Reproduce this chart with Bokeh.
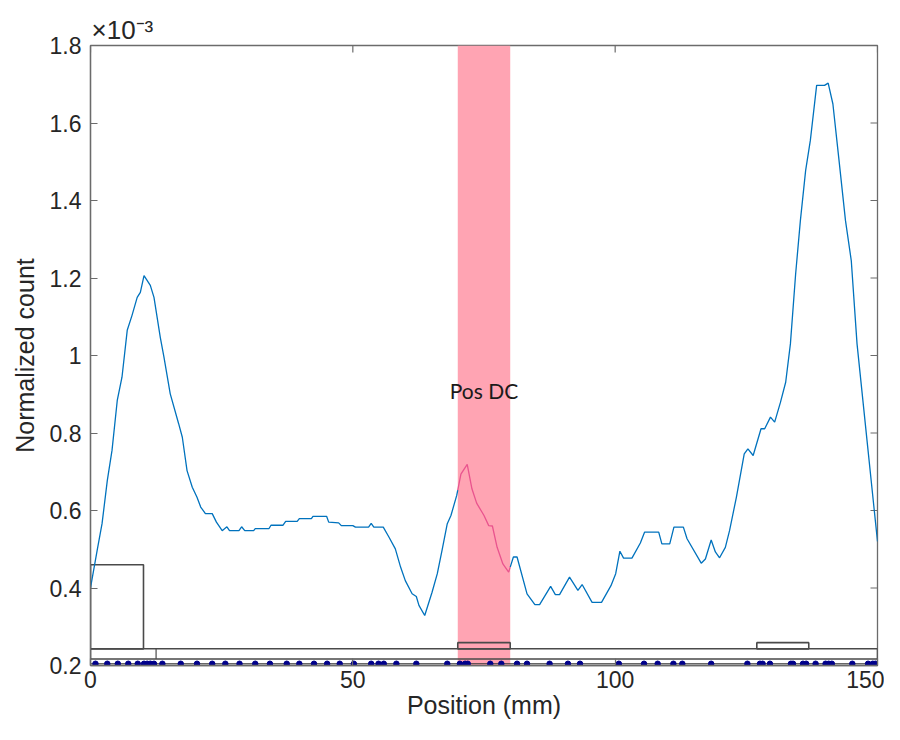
import numpy as np
from bokeh.plotting import figure
from bokeh.models import FixedTicker, Range1d, Label
from bokeh.embed import file_html
from bokeh.resources import INLINE

# ---------------- data ----------------
# normalized count, in units of 1e-3
pos_mm = [0.0, 1.27, 2.2, 3.2, 4.1, 5.1, 6.0, 7.0, 7.9, 8.9, 9.5, 10.2, 11.4, 12.1,
          13.3, 14.0, 15.2, 16.8, 17.5, 18.4, 19.4, 20.3, 21.0, 21.9, 23.2, 24.0,
          25.1, 26.0, 26.5, 28.3, 28.8, 29.4, 31.1, 31.4, 34.0, 34.4, 36.7, 37.2,
          39.4, 39.8, 42.1, 42.4, 45.0, 45.4, 47.3, 47.8, 50.0, 50.5, 53.0, 53.5,
          54.0, 55.8, 56.9, 58.1, 59.1, 60.0, 61.3, 62.1, 62.6, 63.7, 65.1, 66.1,
          67.0, 68.0, 68.7, 69.8, 70.6, 71.8, 72.7, 73.6, 75.0, 75.9, 76.6, 77.5,
          78.6, 79.7, 80.6, 81.3, 83.2, 84.7, 85.6, 87.7, 88.6, 89.4, 91.3, 92.9,
          93.7, 95.6, 97.4, 99.2, 100.1, 100.9, 101.6, 103.2, 104.8, 105.6, 108.3,
          108.9, 110.4, 111.2, 113.0, 113.7, 116.4, 117.2, 118.3, 119.1, 119.9,
          121.0, 121.8, 123.1, 124.6, 125.3, 126.3, 127.8, 128.5, 129.6, 130.4,
          131.5, 132.5, 133.4, 134.4, 135.3, 136.3, 137.2, 138.4, 139.9, 140.6,
          141.5, 142.6, 143.9, 145.0, 146.1, 148.0, 150.0]
count_e3 = [0.400, 0.497, 0.566, 0.677, 0.755, 0.884, 0.944, 1.065, 1.103, 1.150, 1.163,
            1.206, 1.181, 1.150, 1.047, 0.996, 0.901, 0.824, 0.789, 0.703, 0.660, 0.634,
            0.609, 0.592, 0.592, 0.570, 0.548, 0.558, 0.548, 0.548, 0.558, 0.548, 0.548,
            0.553, 0.553, 0.562, 0.562, 0.572, 0.572, 0.579, 0.579, 0.585, 0.585, 0.570,
            0.568, 0.561, 0.561, 0.557, 0.557, 0.567, 0.557, 0.557, 0.531, 0.501, 0.454,
            0.419, 0.385, 0.378, 0.355, 0.329, 0.389, 0.437, 0.497, 0.566, 0.587, 0.639,
            0.694, 0.719, 0.656, 0.619, 0.587, 0.561, 0.560, 0.505, 0.462, 0.441, 0.480,
            0.480, 0.385, 0.357, 0.357, 0.404, 0.383, 0.383, 0.428, 0.394, 0.409, 0.363,
            0.363, 0.406, 0.437, 0.495, 0.477, 0.477, 0.516, 0.544, 0.544, 0.514, 0.514,
            0.557, 0.557, 0.527, 0.464, 0.475, 0.524, 0.493, 0.478, 0.505, 0.548, 0.634,
            0.746, 0.759, 0.742, 0.811, 0.811, 0.841, 0.828, 0.879, 0.931, 1.030, 1.211,
            1.348, 1.477, 1.555, 1.697, 1.697, 1.703, 1.649, 1.512, 1.348, 1.245, 1.030,
            0.781, 0.520]

band_x = [70, 80]
band_text = "Pos DC"
band_text_pos = [75, 0.91]

# schematic at the bottom
rect_left = [0, 70, 127]
rect_right = [10.1, 80, 136.9]
rect_bottom = [0.243, 0.243, 0.243]
rect_top = [0.46, 0.259, 0.259]
bar_left = [0]
bar_right = [150]
bar_bottom = [0.217]
bar_top = [0.243]
divider_x = [12.5]
dot_x = [0.95, 3.2, 5.2, 7.2, 9.0, 10.2, 10.8, 11.4, 12.1, 13.7, 17.2, 20.3, 23.2, 25.7,
         28.4, 31.4, 34.2, 37.4, 39.8, 42.6, 45.1, 47.5, 50.2, 53.5, 54.9, 55.9, 58.3,
         62.1, 68.0, 70.4, 71.4, 71.9, 76.2, 78.3, 81.3, 83.2, 87.5, 91.0, 93.3, 100.7,
         105.5, 108.1, 111.1, 112.8, 118.3, 125.2, 127.6, 128.1, 129.5, 133.5, 133.9,
         135.8, 136.4, 138.2, 140.1, 140.7, 141.3, 145.2, 148.2, 149.1, 149.6]
dot_level = 0.2045

x_ticks = [0, 50, 100, 150]
y_ticks = [0.2, 0.4, 0.6, 0.8, 1.0, 1.2, 1.4, 1.6, 1.8]
y_tick_labels = ["0.2", "0.4", "0.6", "0.8", "1", "1.2", "1.4", "1.6", "1.8"]
x_lim = (0, 150)
y_lim = (0.2, 1.8)
scale_text = "\u00d710\u207b\u00b3"

# ---------------- figure ----------------
AX = "#6b6b6b"
TXT = "#262626"
FONT = "Liberation Sans"

p = figure(width=884, height=724, x_range=Range1d(*x_lim), y_range=Range1d(*y_lim),
           output_backend="svg", toolbar_location=None,
           min_border_left=90, min_border_right=7, min_border_top=45, min_border_bottom=59)
p.grid.visible = False
p.outline_line_color = AX
p.outline_line_width = 1.3
p.background_fill_color = "white"
p.border_fill_color = "white"

# exponent as title
p.title.text = scale_text
p.title.align = "left"
p.title.offset = 1
p.title.standoff = 1
p.title.text_font = FONT
p.title.text_font_size = "26px"
p.title.text_font_style = "normal"
p.title.text_color = TXT

def style_axis(ax):
    ax.axis_line_color = AX
    ax.axis_line_width = 1.3
    ax.major_tick_line_color = AX
    ax.major_tick_line_width = 1.2
    ax.major_tick_in = 7
    ax.major_tick_out = 0
    ax.minor_tick_line_color = None
    ax.major_label_text_font = FONT
    ax.major_label_text_font_size = "23px"
    ax.major_label_text_color = TXT
    ax.axis_label_text_font = FONT
    ax.axis_label_text_font_size = "25px"
    ax.axis_label_text_font_style = "normal"
    ax.axis_label_text_color = TXT

xb = p.xaxis[0]
yl = p.yaxis[0]
xb.ticker = FixedTicker(ticks=x_ticks)
yl.ticker = FixedTicker(ticks=y_ticks)
yl.major_label_overrides = dict(zip(y_ticks, y_tick_labels))
style_axis(xb)
style_axis(yl)
xb.axis_label = "Position (mm)"
yl.axis_label = "Normalized count"
xb.major_label_standoff = 5
xb.axis_label_standoff = 0
yl.major_label_standoff = 9
yl.axis_label_standoff = 8

# inward ticks on top and right edges of the box
p.ray(x=x_ticks, y=[y_lim[1]] * len(x_ticks), length=7, length_units="screen",
      angle=-90, angle_units="deg", line_color=AX, line_width=1.2)
p.ray(x=[x_lim[1]] * len(y_ticks), y=y_ticks, length=7, length_units="screen",
      angle=180, angle_units="deg", line_color=AX, line_width=1.2)

# pink band
p.quad(left=[band_x[0]], right=[band_x[1]], bottom=[y_lim[0]], top=[y_lim[1]],
       fill_color="#FFA4B3", line_color=None)

# schematic
p.quad(left=bar_left, right=bar_right, bottom=bar_bottom, top=bar_top,
       fill_color=None, line_color="#4a4a4a", line_width=1.5)
p.quad(left=rect_left, right=rect_right, bottom=rect_bottom, top=rect_top,
       fill_color=None, line_color="#4a4a4a", line_width=1.6)
p.segment(x0=divider_x, x1=divider_x, y0=bar_bottom * len(divider_x), y1=bar_top * len(divider_x),
          line_color="#4a4a4a", line_width=1.2)
p.line(x=[x_lim[0], x_lim[1]], y=[dot_level, dot_level], line_color="#333333", line_width=1)
p.scatter(x=dot_x, y=[dot_level] * len(dot_x), size=5.5, marker="circle",
          fill_color="#00008B", line_color="#00008B")

# curve: blue outside the band, pink inside it
xs = np.array(pos_mm)
ys = np.array(count_e3)
left = xs < band_x[0]
right = xs > band_x[1]
inside = ~left & ~right
lx = np.concatenate([xs[left], [band_x[0]]])
rx = np.concatenate([[band_x[1]], xs[right]])
mx = np.concatenate([[band_x[0]], xs[inside], [band_x[1]]])
p.multi_line(xs=[lx.tolist(), rx.tolist()],
             ys=[np.interp(lx, xs, ys).tolist(), np.interp(rx, xs, ys).tolist()],
             line_color="#0072BD", line_width=1.3)
p.line(x=mx, y=np.interp(mx, xs, ys), line_color="#E9548E", line_width=1.3)

# band label
p.add_layout(Label(x=band_text_pos[0], y=band_text_pos[1], text=band_text,
                   text_align="center", text_baseline="middle",
                   text_font="Lato", text_font_size="21px", text_color="#1a1a1a"))

open("out.html", "w").write(file_html(p, INLINE))
